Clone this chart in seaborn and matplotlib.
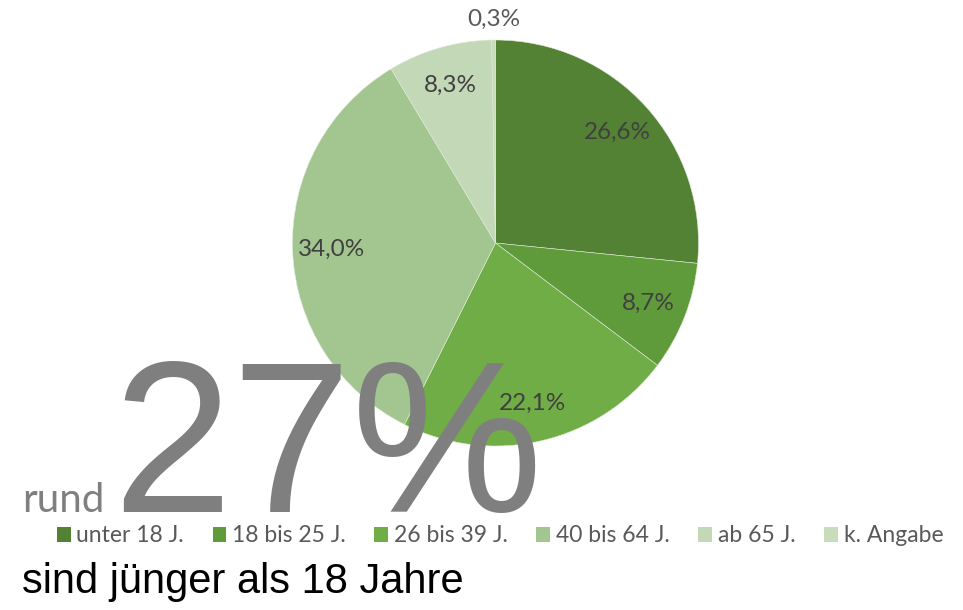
import matplotlib
matplotlib.use("Agg")
import matplotlib.pyplot as plt
import matplotlib.patches as mpatches
import seaborn as sns
import numpy as np

categories = ["unter 18 J.", "18 bis 25 J.", "26 bis 39 J.", "40 bis 64 J.", "ab 65 J.", "k. Angabe"]
values = [26.6, 8.7, 22.1, 34.0, 8.3, 0.3]
colors = ["#548235", "#5f9b3b", "#70ad47", "#a3c58f", "#c3d8b6", "#c8dcbc"]

big_number = "27%"
prefix = "rund"
subtitle = "sind jünger als 18 Jahre"

sns.set_theme(style="white")
label_font = ["Lato", "DejaVu Sans"]
arial = ["Liberation Sans", "DejaVu Sans"]
plt.rcParams["font.family"] = label_font

fig = plt.figure(figsize=(9.63, 6.10), dpi=100)
fig.patch.set_facecolor("white")

cx, cy, r = 495.5, 243.0, 203.0
W, H = 963.0, 610.0
ax = fig.add_axes([(cx - r) / W, (H - cy - r) / H, 2 * r / W, 2 * r / H])

def fmt(p):
    return ("%.1f" % p).replace(".", ",") + "%"

wedges, texts, autotexts = ax.pie(
    values, colors=colors, startangle=90, counterclock=False,
    autopct=fmt, pctdistance=0.81, radius=1.0,
    wedgeprops=dict(edgecolor="#dfe9d8", linewidth=0.4),
    textprops=dict(fontsize=17.5, color="#404040"),
)
# small slice label outside
w = wedges[-1]
mid = np.deg2rad((w.theta1 + w.theta2) / 2)
autotexts[-1].set_position((1.10 * np.cos(mid), 1.10 * np.sin(mid)))
autotexts[-1].set_color("#595959")
ax.set_xlim(-1, 1)
ax.set_ylim(-1, 1)
ax.set_aspect("equal")
ax.axis("off")

handles = [mpatches.Patch(facecolor=c, edgecolor="none") for c in colors]
leg = fig.legend(handles, categories, loc="center", bbox_to_anchor=(500 / W, 1 - 536 / H),
                 ncol=6, frameon=False, fontsize=16.5, handlelength=0.6, handleheight=0.6,
                 handletextpad=0.25, columnspacing=1.25)
for t in leg.get_texts():
    t.set_color("#595959")

fig.text(112 / W, 1 - 512 / H, big_number, fontsize=155, color="#7f7f7f",
         family=arial, ha="left", va="baseline", zorder=10)
fig.text(22 / W, 1 - 512 / H, prefix, fontsize=29, color="#7f7f7f",
         family=label_font, ha="left", va="baseline", zorder=10)
fig.text(22 / W, 1 - 593 / H, subtitle, fontsize=30, color="#000000",
         family=arial, ha="left", va="baseline", zorder=10)

fig.savefig("out.png", dpi=100)
